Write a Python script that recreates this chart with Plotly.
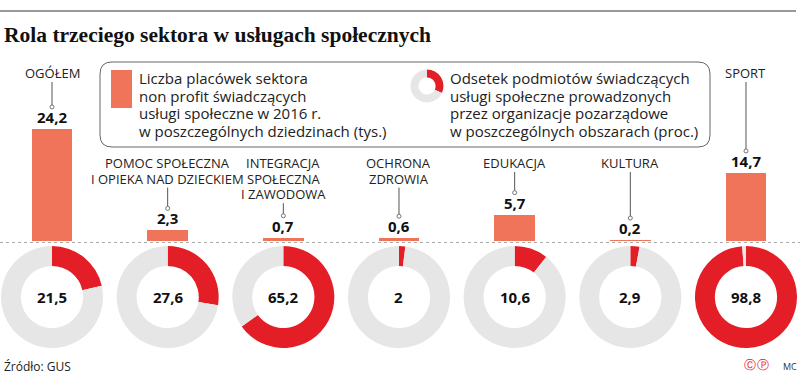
import plotly.graph_objects as go

# ---------------- data ----------------
categories = ["OGÓŁEM", "POMOC SPOŁECZNA<br>I OPIEKA NAD DZIECKIEM", "INTEGRACJA<br>SPOŁECZNA<br>I ZAWODOWA",
              "OCHRONA<br>ZDROWIA", "EDUKACJA", "KULTURA", "SPORT"]
facilities_k = [24.2, 2.3, 0.7, 0.6, 5.7, 0.2, 14.7]          # thousands
ngo_share_pct = [21.5, 27.6, 65.2, 2, 10.6, 2.9, 98.8]          # percent
top_row_categories = ["OGÓŁEM", "SPORT"]

title = "Rola trzeciego sektora w usługach społecznych"
legend_bar_text = ["Liczba placówek sektora", "non profit świadczących",
                   "usługi społeczne w 2016 r.", "w poszczególnych dziedzinach (tys.)"]
legend_donut_text = ["Odsetek podmiotów świadczących", "usługi społeczne prowadzonych",
                     "przez organizacje pozarządowe", "w poszczególnych obszarach (proc.)"]
legend_donut_sample = [32, 68]
source = "Źródło: GUS"

# ---------------- style / layout ----------------
W, H = 800, 376
BAR_COLOR = "#F0745A"
RED = "#E41E26"
GREY = "#E6E6E6"
SANS = "Open Sans, Noto Sans, sans-serif"
SERIF = "Liberation Serif, DejaVu Serif, serif"

XMIN, XMAX = -0.4496, 6.467
BASE_PX = 241          # baseline pixel row
Y_TOP = 52.05          # value at pixel row 0


def xpx(i):
    return (i - XMIN) / (XMAX - XMIN) * W


def ypx(v):
    return BASE_PX - v / Y_TOP * BASE_PX


fig = go.Figure()

# bars
fig.add_trace(go.Bar(
    x=list(range(len(categories))), y=facilities_k, width=0.354,
    marker=dict(color=BAR_COLOR, line=dict(width=0)),
    hoverinfo="skip", showlegend=False, xaxis="x", yaxis="y"))

# invisible trace for pixel overlay axes
fig.add_trace(go.Scatter(x=[None], y=[None], xaxis="x2", yaxis="y2",
                         showlegend=False, hoverinfo="skip"))

shapes = []
annotations = []


def text_px(x, y, txt, size, color="#222", family=SANS, xanchor="left", bold=False):
    annotations.append(dict(xref="x2", yref="y2", x=x, y=y, xanchor=xanchor, yanchor="middle",
                            text=("<b>%s</b>" % txt) if bold else txt, showarrow=False,
                            font=dict(family=family, size=size, color=color)))


# title and top rule
shapes.append(dict(type="line", xref="x2", yref="y2", x0=0, x1=796, y0=11, y1=11,
                   line=dict(color="#777", width=1.5)))
text_px(2, 35, title, 21.5, color="#111", family=SERIF, bold=True)

# dotted baseline
shapes.append(dict(type="line", xref="x2", yref="y2", x0=0, x1=W, y0=BASE_PX + 1.5, y1=BASE_PX + 1.5,
                   line=dict(color="#AAAAAA", width=1, dash="dot"), layer="below"))

# legend box
x0, y0, x1, y1, r = 100, 62, 710, 147, 12
path = (f"M {x0+r},{y0} L {x1-r},{y0} Q {x1},{y0} {x1},{y0+r} L {x1},{y1-r} Q {x1},{y1} {x1-r},{y1} "
        f"L {x0+r},{y1} Q {x0},{y1} {x0},{y1-r} L {x0},{y0+r} Q {x0},{y0} {x0+r},{y0} Z")
shapes.append(dict(type="path", xref="x2", yref="y2", path=path, line=dict(color="#666", width=1)))
shapes.append(dict(type="rect", xref="x2", yref="y2", x0=111, x1=132, y0=70, y1=108,
                   fillcolor=BAR_COLOR, line=dict(width=0)))
for k, line in enumerate(legend_bar_text):
    text_px(137, 78 + k * 17.6, line, 15)
for k, line in enumerate(legend_donut_text):
    text_px(448, 78 + k * 17.6, line, 15)
# legend donut icon
cx, cy, rr = 427, 86, 16.5
fig.add_trace(go.Pie(values=legend_donut_sample, sort=False, direction="clockwise", hole=0.52,
                     marker=dict(colors=[RED, GREY], line=dict(width=0)), textinfo="none",
                     hoverinfo="skip", showlegend=False,
                     domain=dict(x=[(cx - rr) / W, (cx + rr) / W], y=[1 - (cy + rr) / H, 1 - (cy - rr) / H])))

# per category elements
DONUT_CY, DONUT_R = 297, 51
for i, (cat, v, p) in enumerate(zip(categories, facilities_k, ngo_share_pct)):
    cxp = xpx(i)
    # value label
    annotations.append(dict(xref="x", yref="y", x=i, y=v, yanchor="bottom", yshift=0,
                            text="<b>%s</b>" % str(v).replace(".", ","), showarrow=False,
                            font=dict(family=SANS, size=15, color="#111")))
    # category label (one annotation per line)
    lines = cat.split("<br>")
    first_center = 73 if cat in top_row_categories else 163
    for k, ln in enumerate(lines):
        text_px(cxp, first_center + k * 15.6, ln, 13, xanchor="center")
    line_top = first_center + (len(lines) - 1) * 15.6 + 9
    dot_y = ypx(v) - 22
    shapes.append(dict(type="line", xref="x2", yref="y2", x0=cxp, x1=cxp, y0=line_top, y1=dot_y - 2,
                       line=dict(color="#555", width=1)))
    shapes.append(dict(type="circle", xref="x2", yref="y2", x0=cxp - 2, x1=cxp + 2, y0=dot_y - 2,
                       y1=dot_y + 2, fillcolor="white", line=dict(color="#555", width=0.8)))
    # donut
    fig.add_trace(go.Pie(values=[p, 100 - p], sort=False, direction="clockwise", hole=0.61,
                         marker=dict(colors=[RED, GREY], line=dict(width=0)), textinfo="none",
                         hoverinfo="skip", showlegend=False,
                         domain=dict(x=[(cxp - DONUT_R) / W, (cxp + DONUT_R) / W],
                                     y=[1 - (DONUT_CY + DONUT_R) / H, 1 - (DONUT_CY - DONUT_R) / H])))
    text_px(cxp, DONUT_CY, str(p).replace(".", ","), 15, color="#111", xanchor="center", bold=True)

# footer
text_px(2, 366, source, 12)
annotations.append(dict(xref="x2", yref="y2", x=756, y=365, xanchor="center", yanchor="middle",
                        text="Ⓒ<span style='font-size:4px'> </span>Ⓟ", showarrow=False,
                        font=dict(family="DejaVu Sans", size=12, color=RED)))
text_px(790, 366, "MC", 9, color="#333", xanchor="center")

fig.update_layout(
    width=W, height=H, margin=dict(l=0, r=0, t=0, b=0),
    paper_bgcolor="white", plot_bgcolor="rgba(0,0,0,0)",
    bargap=0, showlegend=False,
    xaxis=dict(range=[XMIN, XMAX], domain=[0, 1], visible=False, fixedrange=True, anchor="y"),
    yaxis=dict(range=[0, Y_TOP], domain=[1 - BASE_PX / H, 1], visible=False, fixedrange=True, anchor="x"),
    xaxis2=dict(range=[0, W], domain=[0, 1], visible=False, fixedrange=True, anchor="y2"),
    yaxis2=dict(range=[H, 0], domain=[0, 1], visible=False, fixedrange=True, anchor="x2"),
    shapes=shapes, annotations=annotations,
)

fig.write_html("out.html", config={"displayModeBar": False},
               post_script="document.body.style.margin='0';document.body.style.overflow='hidden';")
